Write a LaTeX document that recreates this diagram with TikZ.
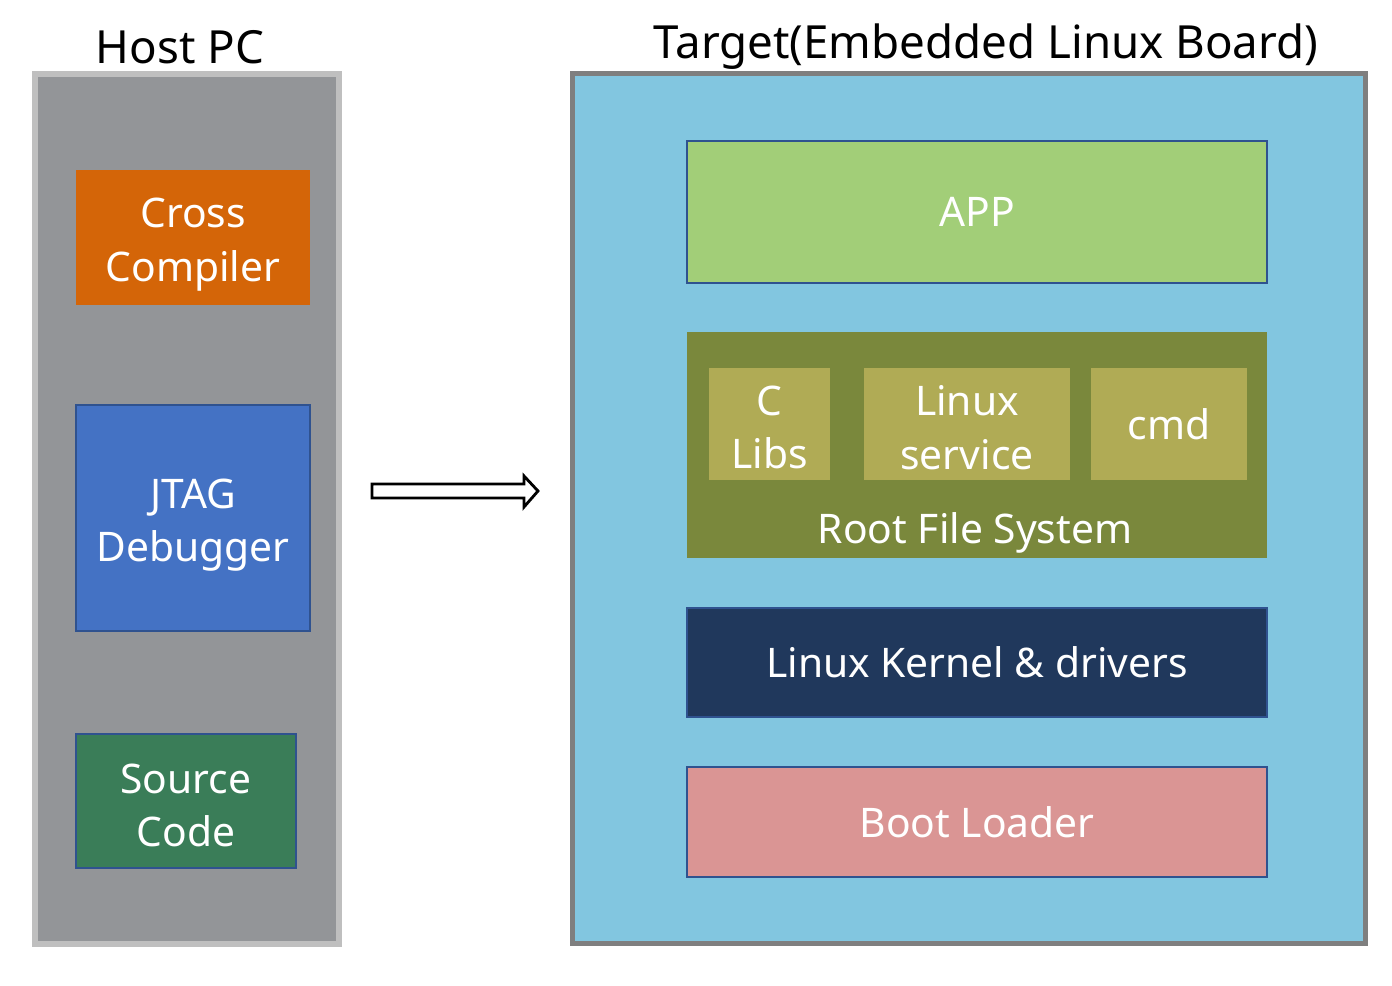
\documentclass[tikz,border=0pt]{standalone}
\usepackage{fontspec}
\setmainfont{Noto Sans}
\usepackage{xcolor}
\usetikzlibrary{positioning}

\definecolor{hostfill}{RGB}{147,149,152}
\definecolor{hostedge}{RGB}{191,191,191}
\definecolor{targetfill}{RGB}{130,198,224}
\definecolor{targetedge}{RGB}{127,127,127}
\definecolor{crossorange}{RGB}{212,101,8}
\definecolor{jtagblue}{RGB}{68,114,196}
\definecolor{sourcegreen}{RGB}{58,125,88}
\definecolor{edgeblue}{RGB}{47,82,143}
\definecolor{appgreen}{RGB}{162,206,120}
\definecolor{rootolive}{RGB}{122,136,60}
\definecolor{subolive}{RGB}{176,171,85}
\definecolor{kernelnavy}{RGB}{32,56,92}
\definecolor{bootpink}{RGB}{218,149,148}

\tikzset{
  boxtext/.style={inner sep=0pt, text=white, align=center,
    font=\fontsize{23.2}{30.5}\selectfont},
  box/.style={rectangle, boxtext},
  layer/.style={box, draw=edgeblue, line width=0.8pt},
  title/.style={font=\fontsize{26}{31}\selectfont, text=black}
}

\begin{document}
\begin{tikzpicture}[x=0.02cm, y=-0.02cm]
        \useasboundingbox (0,0) rectangle (1392,985);

        % Host side
        \node[draw=hostedge, fill=hostfill, line width=3.4pt, minimum width=6.08cm,
          minimum height=17.4cm] (host) at (187,509) {};
        \node[title] (hostlabel) at (180,47) {Host PC};

        \node[box, fill=crossorange, minimum width=4.68cm, minimum height=2.7cm]
          (cross) at (193,237.5) {};
        \node[boxtext] (crosstext) at ([yshift=-4pt]cross.center) {Cross\\Compiler};
        \node[layer, fill=jtagblue, minimum width=4.68cm, minimum height=4.52cm]
          (jtag) at (193,518) {};
        \node[boxtext] (jtagtext) at ([yshift=-4pt]jtag.center) {JTAG\\Debugger};
        \node[layer, fill=sourcegreen, minimum width=4.4cm, minimum height=2.68cm]
          (source) at (186,801) {};
        \node[boxtext] (sourcetext) at ([yshift=-2.5pt]source.center) {Source\\Code};

        % Hollow arrow
        \coordinate (a1) at (372,484);
        \coordinate (a2) at (524,484);
        \coordinate (a3) at (524,476);
        \coordinate (a4) at (538,491);
        \coordinate (a5) at (524,507);
        \coordinate (a6) at (524,498);
        \coordinate (a7) at (372,498);
        \draw[line width=1.6pt, fill=white] (a1) -- (a2) -- (a3) -- (a4) -- (a5) -- (a6) -- (a7) -- cycle;

        % Target side
        \node[draw=targetedge, fill=targetfill, line width=2.8pt, minimum width=15.86cm,
          minimum height=17.4cm] (target) at (969,508.5) {};
        \node[title] (targetlabel) at (986,47) {Target(Embedded Linux Board)};

        \node[layer, fill=appgreen, minimum width=11.6cm, minimum height=2.84cm]
          (app) at (977,212) {APP};

        \node[box, fill=rootolive, minimum width=11.6cm, minimum height=4.52cm]
          (rootfs) at (977,445) {};
        \node[box, fill=subolive, minimum width=2.42cm, minimum height=2.24cm]
          (clibs) at (769.5,424) {};
        \node[boxtext] (clibstext) at ([yshift=-2pt]clibs.center) {C\\Libs};
        \node[box, fill=subolive, minimum width=4.12cm, minimum height=2.24cm]
          (service) at (967,424) {};
        \node[boxtext] (servicetext) at ([yshift=-2pt]service.center) {Linux\\service};
        \node[box, fill=subolive, minimum width=3.12cm, minimum height=2.24cm]
          (cmd) at (1169,424) {cmd};
        \node[boxtext] (rootlabel) at (975,533) {Root File System};

        \node[layer, fill=kernelnavy, minimum width=11.6cm, minimum height=2.18cm]
          (kernel) at (977,662.5) {Linux Kernel \& drivers};
        \node[layer, fill=bootpink, minimum width=11.6cm, minimum height=2.2cm]
          (boot) at (977,822) {Boot Loader};
    \end{tikzpicture}
\end{document}
